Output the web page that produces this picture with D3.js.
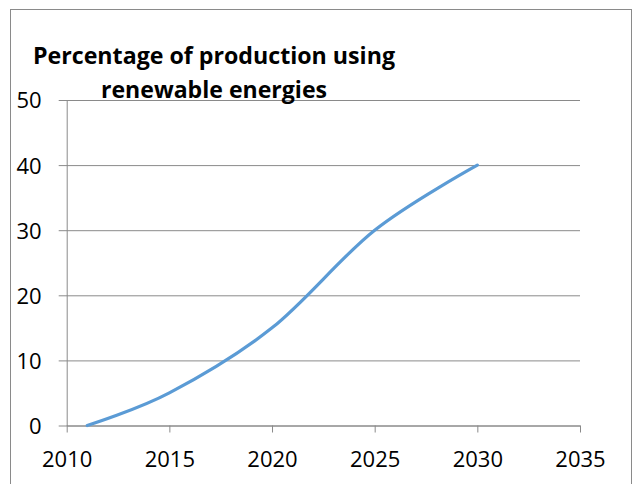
<!DOCTYPE html>
<html>
<head>
<meta charset="utf-8">
<script src="https://cdn.jsdelivr.net/npm/d3@7"></script>
<style>
  html, body { margin: 0; padding: 0; background: #fff; }
  svg { display: block; }
  text { font-family: "Open Sans", "Liberation Sans", sans-serif; fill: #000; }
</style>
</head>
<body>
<svg id="chart" width="633" height="484"></svg>
<script>
// Share of production from renewable energies, by year
const years = [2011, 2015, 2020, 2025, 2030];
const percentages = [0, 5, 15, 30, 40];
const xTicks = [2010, 2015, 2020, 2025, 2030, 2035];
const yTicks = [0, 10, 20, 30, 40, 50];
const titleLines = ["Percentage of production using", "renewable energies"];

(function draw() {
  const svg = d3.select("#chart");
  const plotLeft = 66.7, plotRight = 580, plotTop = 100, plotBottom = 425.5;
  const plotW = plotRight - plotLeft;
  const grey = "#8a8a8a";

  // outer chart frame
  svg.append("rect")
    .attr("x", 10.5).attr("y", 9.5)
    .attr("width", 621).attr("height", 520)
    .attr("fill", "none").attr("stroke", grey).attr("stroke-width", 1);

  const x = d3.scaleLinear().domain([2010, 2035]).range([plotLeft, plotRight]);
  const y = d3.scaleLinear().domain([0, 50]).range([plotBottom, plotTop]);

  // horizontal gridlines with short outside ticks, plus labels
  const yAxis = svg.append("g")
    .attr("transform", `translate(${plotLeft},0)`)
    .call(d3.axisLeft(y).tickValues(yTicks).tickSizeOuter(0).tickSizeInner(8).tickPadding(0).tickFormat(d3.format("d")));
  yAxis.select(".domain").attr("stroke", grey);
  yAxis.selectAll(".tick line").attr("x1", -8).attr("x2", plotW).attr("stroke", grey);
  yAxis.selectAll(".tick text")
    .attr("x", -25).attr("dy", "0.36em")
    .attr("font-size", 22).attr("text-anchor", "end");

  // horizontal axis
  const xAxis = svg.append("g")
    .attr("transform", `translate(0,${plotBottom})`)
    .call(d3.axisBottom(x).tickValues(xTicks).tickSizeOuter(0).tickSizeInner(7).tickPadding(0).tickFormat(d3.format("d")));
  xAxis.select(".domain").attr("stroke", grey);
  xAxis.selectAll(".tick line").attr("stroke", grey);
  xAxis.selectAll(".tick text")
    .attr("y", 34).attr("dy", "0.36em")
    .attr("font-size", 22).attr("text-anchor", "middle");

  // smoothed series line
  const line = d3.line()
    .x((d, i) => x(years[i]))
    .y(d => y(d))
    .curve(d3.curveCardinal.tension(0));

  svg.append("path")
    .datum(percentages)
    .attr("d", line)
    .attr("fill", "none")
    .attr("stroke", "#5b9bd5")
    .attr("stroke-width", 3.2)
    .attr("stroke-linecap", "round");

  // title
  const titleWidths = [362, 226];
  const titleBaselines = [64.3, 98.3];
  svg.selectAll("text.title")
    .data(titleLines)
    .join("text")
    .attr("class", "title")
    .attr("x", 214)
    .attr("y", (d, i) => titleBaselines[i])
    .attr("text-anchor", "middle")
    .attr("font-size", 22.5)
    .attr("font-weight", "bold")
    .attr("textLength", (d, i) => titleWidths[i])
    .attr("lengthAdjust", "spacingAndGlyphs")
    .text(d => d);
})();
</script>
</body>
</html>
